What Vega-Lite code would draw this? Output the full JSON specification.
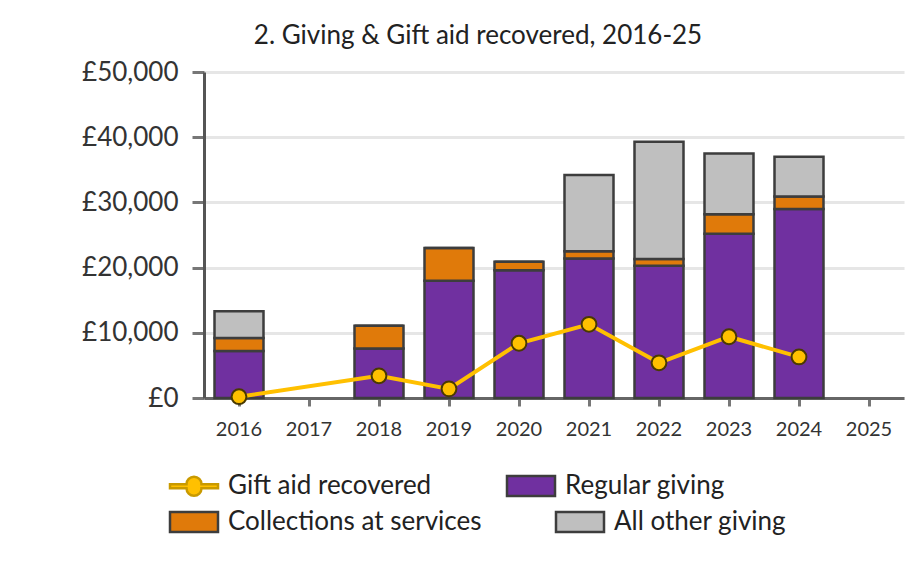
{
  "$schema": "https://vega.github.io/schema/vega-lite/v6.json",
  "width": 700,
  "height": 326,
  "autosize": {"type": "none"},
  "padding": {"left": 204, "top": 72, "right": 3, "bottom": 164},
  "background": "white",
  "config": {
    "font": "Lato",
    "view": {"stroke": null},
    "legend": {
      "orient": "none",
      "direction": "horizontal",
      "title": null,
      "labelFontSize": 26,
      "labelColor": "#222",
      "labelLimit": 0,
      "symbolSize": 400,
      "symbolStrokeWidth": 2.5,
      "symbolStrokeColor": "#3d3d3d",
      "symbolOpacity": 1,
      "labelOffset": 21
    }
  },
  "title": {
    "text": "2. Giving & Gift aid recovered, 2016-25",
    "fontSize": 26,
    "fontWeight": "normal",
    "color": "#222",
    "anchor": "middle",
    "dx": -76,
    "offset": 10
  },
  "datasets": {
    "bars": [
      {"year": "2016", "series": "Regular giving", "value": 7200},
      {"year": "2016", "series": "Collections at services", "value": 2000},
      {"year": "2016", "series": "All other giving", "value": 4100},
      {"year": "2018", "series": "Regular giving", "value": 7600},
      {"year": "2018", "series": "Collections at services", "value": 3500},
      {"year": "2018", "series": "All other giving", "value": 0},
      {"year": "2019", "series": "Regular giving", "value": 18000},
      {"year": "2019", "series": "Collections at services", "value": 5000},
      {"year": "2019", "series": "All other giving", "value": 0},
      {"year": "2020", "series": "Regular giving", "value": 19600},
      {"year": "2020", "series": "Collections at services", "value": 1300},
      {"year": "2020", "series": "All other giving", "value": 0},
      {"year": "2021", "series": "Regular giving", "value": 21400},
      {"year": "2021", "series": "Collections at services", "value": 1100},
      {"year": "2021", "series": "All other giving", "value": 11700},
      {"year": "2022", "series": "Regular giving", "value": 20300},
      {"year": "2022", "series": "Collections at services", "value": 1000},
      {"year": "2022", "series": "All other giving", "value": 18000},
      {"year": "2023", "series": "Regular giving", "value": 25200},
      {"year": "2023", "series": "Collections at services", "value": 3000},
      {"year": "2023", "series": "All other giving", "value": 9300},
      {"year": "2024", "series": "Regular giving", "value": 29000},
      {"year": "2024", "series": "Collections at services", "value": 1900},
      {"year": "2024", "series": "All other giving", "value": 6100}
    ],
    "gift": [
      {"year": "2016", "series": "Gift aid recovered", "value": 200},
      {"year": "2018", "series": "Gift aid recovered", "value": 3400},
      {"year": "2019", "series": "Gift aid recovered", "value": 1400},
      {"year": "2020", "series": "Gift aid recovered", "value": 8400},
      {"year": "2021", "series": "Gift aid recovered", "value": 11300},
      {"year": "2022", "series": "Gift aid recovered", "value": 5400},
      {"year": "2023", "series": "Gift aid recovered", "value": 9400},
      {"year": "2024", "series": "Gift aid recovered", "value": 6300}
    ]
  },
  "encoding": {
    "x": {
      "field": "year",
      "type": "ordinal",
      "scale": {
        "domain": ["2016", "2017", "2018", "2019", "2020", "2021", "2022", "2023", "2024", "2025"],
        "paddingInner": 0.3,
        "paddingOuter": 0.15
      },
      "axis": {
        "title": null,
        "labelAngle": 0,
        "labelFontSize": 20,
        "labelColor": "#333",
        "labelPadding": 13,
        "tickSize": 8,
        "tickWidth": 3,
        "tickColor": "#777",
        "domainColor": "#666",
        "domainWidth": 3,
        "grid": false
      }
    },
    "y": {
      "field": "value",
      "type": "quantitative",
      "scale": {"domain": [0, 50000]},
      "axis": {
        "title": null,
        "values": [0, 10000, 20000, 30000, 40000, 50000],
        "labelExpr": "'£' + format(datum.value, ',')",
        "labelFontSize": 26,
        "labelColor": "#333",
        "labelPadding": 14,
        "tickSize": 12,
        "tickWidth": 3,
        "tickColor": "#777",
        "domainColor": "#555",
        "domainWidth": 3,
        "gridColor": "#e6e6e6",
        "gridWidth": 3
      }
    }
  },
  "layer": [
    {
      "data": {"name": "bars"},
      "mark": {"type": "bar", "strokeWidth": 2.5},
      "encoding": {
        "y": {"field": "value", "type": "quantitative", "stack": "zero"},
        "fill": {
          "field": "series",
          "type": "nominal",
          "sort": ["Gift aid recovered", "Regular giving", "Collections at services", "All other giving"],
          "scale": {
            "domain": ["Gift aid recovered", "Regular giving", "Collections at services", "All other giving"],
            "range": ["#FFC000", "#7030A0", "#E07A0A", "#BFBFBF"]
          },
          "legend": {
            "values": ["Gift aid recovered", "Regular giving"],
            "legendX": -23,
            "legendY": 401,
            "columnPadding": 70
          }
        },
        "stroke": {
          "field": "series",
          "type": "nominal",
          "scale": {
            "domain": ["Gift aid recovered", "Regular giving", "Collections at services", "All other giving"],
            "range": ["#c99a00", "#3d3d3d", "#3d3d3d", "#3d3d3d"]
          },
          "legend": {
            "values": ["Gift aid recovered", "Regular giving"],
            "legendX": -23,
            "legendY": 401,
            "columnPadding": 70
          }
        }
      }
    },
    {
      "data": {"name": "gift"},
      "mark": {"type": "point", "filled": true, "size": 0},
      "encoding": {
        "shape": {
          "field": "series",
          "type": "nominal",
          "scale": {
            "domain": ["Gift aid recovered", "Regular giving", "Collections at services", "All other giving"],
            "range": [
              "M-2.4,-0.2H-0.75A0.75,0.75 0 1,1 0.75,-0.2H2.4V0.2H0.75A0.75,0.75 0 1,1 -0.75,0.2H-2.4Z",
              "M-2.4,-1H2.4V1H-2.4Z",
              "M-2.4,-1H2.4V1H-2.4Z",
              "M-2.4,-1H2.4V1H-2.4Z"
            ]
          },
          "legend": {
            "values": ["Gift aid recovered", "Regular giving"],
            "legendX": -23,
            "legendY": 401,
            "columnPadding": 70
          }
        }
      }
    },
    {
      "data": {"name": "bars"},
      "mark": {"type": "point", "filled": true, "size": 0, "stroke": "#3d3d3d"},
      "encoding": {
        "color": {
          "field": "series",
          "type": "nominal",
          "scale": {
            "domain": ["All other giving", "Collections at services", "Regular giving", "Gift aid recovered"],
            "range": ["#BFBFBF", "#E07A0A", "#7030A0", "#FFC000"]
          },
          "legend": {
            "values": ["Collections at services", "All other giving"],
            "symbolType": "M-2.4,-1H2.4V1H-2.4Z",
            "legendX": -23,
            "legendY": 437,
            "columnPadding": 69
          }
        }
      }
    },
    {
      "data": {"name": "gift"},
      "mark": {"type": "line", "color": "#FFC000", "strokeWidth": 4},
      "encoding": {}
    },
    {
      "data": {"name": "gift"},
      "mark": {"type": "point", "filled": true, "fill": "#FFC000", "stroke": "#4a3a00", "strokeWidth": 2, "size": 220, "opacity": 1},
      "encoding": {}
    }
  ]
}
